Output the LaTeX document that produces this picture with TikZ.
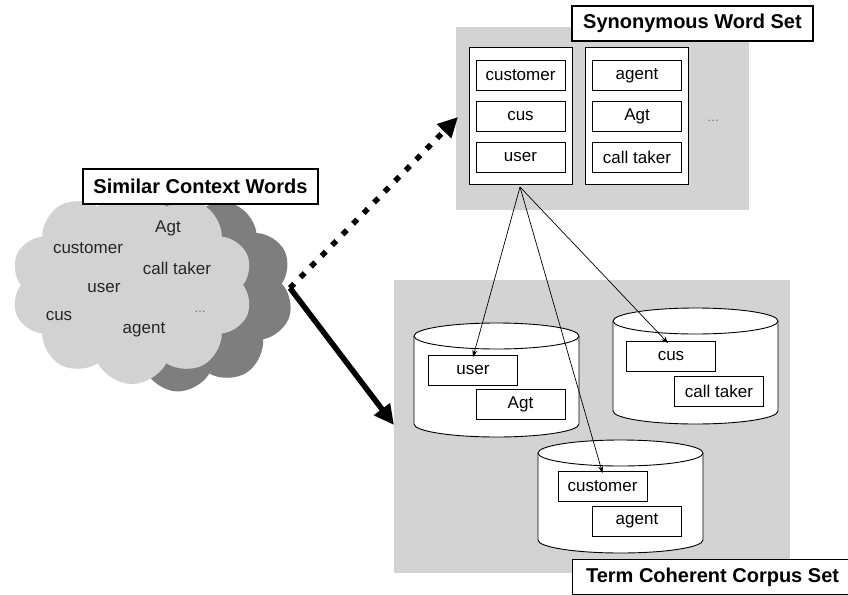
\documentclass[tikz,border=0pt]{standalone}
\usepackage{fontspec}
\setmainfont{Liberation Sans}
\usetikzlibrary{shapes.symbols,arrows.meta}
\definecolor{bggray}{HTML}{D3D3D3}
\definecolor{cloudlight}{HTML}{D2D2D2}
\definecolor{clouddark}{HTML}{7E7E7E}
\begin{document}
\begin{tikzpicture}[x=1pt,y=-1pt,
  wordbox/.style={draw=black, line width=0.9pt, fill=white, minimum width=89pt, minimum height=30pt, inner sep=0pt, font=\fontsize{17}{20}\selectfont},
  titlebox/.style={draw=black, line width=1.1pt, fill=white, inner xsep=10pt, inner ysep=0pt, minimum height=35pt, font=\fontsize{20}{24}\selectfont\bfseries},
  cloudword/.style={inner sep=0pt, font=\fontsize{17}{20}\selectfont, text=black!85},
  dots/.style={inner sep=0pt, font=\fontsize{12}{14}\selectfont, text=black!60},
  panel/.style={draw=black, line width=0.9pt, fill=white, minimum width=103pt, minimum height=137pt, inner sep=0pt},
  bgrect/.style={fill=bggray},
  cyl/.style={draw=black, line width=0.9pt, fill=white},
  thin/.style={line width=0.7pt, -{Stealth[length=7pt,width=5pt]}},
  bigarrow/.style={line width=5.5pt, -{Triangle[length=20pt,width=19pt]}}
]
\path[use as bounding box, clip] (0,0) rectangle (848,594);
\fill[white] (0,0) rectangle (848,594);

% background panels
\path[bgrect] (456,27) rectangle (749,210);
\path[bgrect] (394,280) rectangle (790,573);

% clouds
\node[cloud, cloud puffs=9, cloud puff arc=125, aspect=1.05, minimum width=212pt, minimum height=194pt, fill=clouddark, inner sep=0pt, rotate=15] (darkcloud) at (188,294) {};
\node[cloud, cloud puffs=10, cloud puff arc=125, aspect=1.24, minimum width=242pt, minimum height=198pt, fill=cloudlight, inner sep=0pt] (lightcloud) at (132,285) {};

\node[cloudword] (cwAgt) at (168,228) {Agt};
\node[cloudword] (cwcustomer) at (88,248) {customer};
\node[cloudword] (cwcalltaker) at (177,268) {call taker};
\node[cloudword] (cwuser) at (104,288) {user};
\node[cloudword] (cwcus) at (59,316) {cus};
\node[cloudword] (cwagent) at (144,330) {agent};
\node[dots] (cwdots) at (200,312) {\dots};

\node[titlebox, minimum width=235pt] (simtitle) at (200.5,186.5) {Similar Context Words};

% thick arrows
\coordinate (src) at (290,288);
\coordinate (dtip) at (458,117);
\coordinate (stip) at (394,425);
\draw[bigarrow, dash pattern=on 6pt off 9pt] (src) -- (dtip);
\draw[bigarrow] (src) -- (stip);

% synonymous word set
\node[panel] (p1) at (520.5,115.5) {};
\node[panel] (p2) at (636.5,115.5) {};
\node[wordbox] (s1) at (520.5,75.5) {customer};
\node[wordbox] (s2) at (520.5,116.5) {cus};
\node[wordbox] (s3) at (520.5,157.5) {user};
\node[wordbox] (s4) at (637,75.5) {agent};
\node[wordbox] (s5) at (637,116.5) {Agt};
\node[wordbox] (s6) at (637,157.5) {call taker};
\node[dots] (sdots) at (713,121) {\dots};

% cylinders
\draw[cyl] (414,336) -- (414,424) arc[start angle=180, end angle=360, x radius=82.5pt, y radius=13pt] -- (579,336) arc[start angle=0, end angle=180, x radius=82.5pt, y radius=13pt] -- cycle;
\draw[cyl] (414,336) arc[start angle=180, end angle=360, x radius=82.5pt, y radius=13pt];
\draw[cyl] (613,321) -- (613,411) arc[start angle=180, end angle=360, x radius=82.5pt, y radius=13pt] -- (778,321) arc[start angle=0, end angle=180, x radius=82.5pt, y radius=13pt] -- cycle;
\draw[cyl] (613,321) arc[start angle=180, end angle=360, x radius=82.5pt, y radius=13pt];
\draw[cyl] (538,453) -- (538,540) arc[start angle=180, end angle=360, x radius=82.5pt, y radius=13pt] -- (703,453) arc[start angle=0, end angle=180, x radius=82.5pt, y radius=13pt] -- cycle;
\draw[cyl] (538,453) arc[start angle=180, end angle=360, x radius=82.5pt, y radius=13pt];

\node[wordbox] (c1a) at (473,370.5) {user};
\node[wordbox] (c1b) at (520.5,404) {Agt};
\node[wordbox] (c2a) at (671,356.5) {cus};
\node[wordbox] (c2b) at (719,391) {call taker};
\node[wordbox] (c3a) at (602.5,486.5) {customer};
\node[wordbox] (c3b) at (637,521) {agent};

% thin arrows
\coordinate (fan) at (520,187);
\draw[thin] (fan) -- ([yshift=-2pt]c1a.north);
\draw[thin] (fan) -- ([yshift=-2pt]c3a.north);
\draw[thin] (fan) -- ([xshift=-3pt,yshift=-2pt]c2a.north);

% titles
\node[titlebox, minimum width=241pt] (syntitle) at (692.5,23.5) {Synonymous Word Set};
\node[titlebox, minimum width=280pt, anchor=north west] (termtitle) at (572,559) {Term Coherent Corpus Set};
\end{tikzpicture}
\end{document}
